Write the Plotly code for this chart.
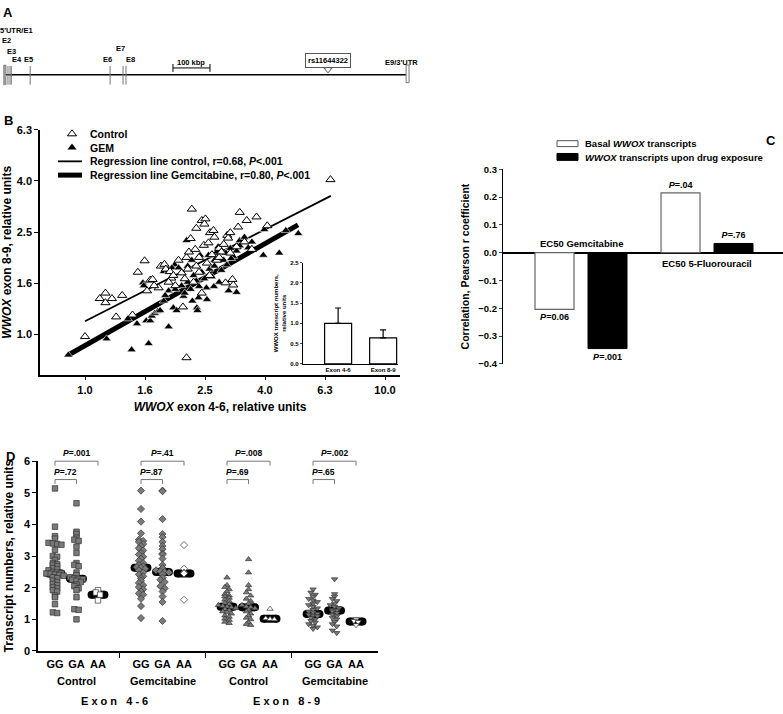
import plotly.graph_objects as go

W, H = 783, 714
FONT = "Arial, 'Liberation Sans', sans-serif"


def px_x(p):
    return p / W


def px_y(p):
    return 1 - p / H


# ---------------- panel A: WWOX gene map (kbp) ----------------
exon_names = ['E2', 'E3', 'E4', 'E5', 'E6', 'E7', 'E8']
exon_kbp = [8, 13.5, 17, 68, 284, 319, 327]
e1_kbp = 0
e9_kbp = 1088
snp_kbp = 873
scale_start = 454
scale_len = 100

# ---------------- panel B: scatter exon 4-6 vs exon 8-9 ----------------
ctrl_x = [1.00, 1.12, 1.17, 1.17, 1.23, 1.33, 1.27, 1.44, 1.50, 1.58, 1.61, 1.65, 1.68, 1.76, 1.79,
          1.84, 1.86, 1.92, 1.94, 1.97, 2.10, 2.12, 2.18, 2.18, 2.27, 2.25, 2.22, 2.33, 2.40, 2.45,
          2.52, 2.50, 2.49, 2.58, 2.61, 2.68, 2.70, 2.80, 2.85, 2.98, 3.00, 3.05, 2.94, 3.10, 3.12,
          3.28, 3.46, 3.24, 3.73, 4.05, 6.58, 2.05, 2.35, 2.30, 2.55, 2.65, 2.75, 2.15, 2.20, 2.40,
          2.60, 1.90, 2.00, 2.45, 2.80, 3.20, 3.40, 3.60, 2.90, 2.35, 1.70, 3.05]
ctrl_y = [0.98, 1.38, 1.33, 1.45, 1.38, 1.42, 1.17, 1.19, 1.75, 1.94, 1.48, 1.63, 1.64, 1.52, 1.85,
          1.88, 1.80, 1.76, 1.66, 1.70, 1.74, 1.28, 0.81, 2.00, 3.09, 2.37, 2.10, 2.15, 2.00, 2.79,
          2.83, 2.70, 2.23, 2.28, 2.50, 2.55, 2.40, 2.17, 2.10, 2.44, 2.38, 2.08, 1.59, 1.64, 1.56,
          3.00, 2.79, 2.63, 2.88, 2.66, 4.03, 1.95, 1.85, 1.60, 1.90, 2.05, 1.95, 1.65, 1.80, 1.75,
          1.70, 1.60, 1.55, 1.45, 2.00, 2.20, 2.30, 2.15, 2.25, 2.60, 1.55, 2.50]
gem_x = [0.88, 1.18, 1.43, 1.63, 1.90, 1.39, 1.49, 1.60, 1.65, 1.67, 1.71, 1.75, 1.56, 1.57, 1.83,
         1.90, 1.99, 1.95, 2.05, 2.27, 2.18, 2.42, 2.58, 2.75, 2.78, 2.90, 3.05, 3.12, 3.07, 2.97,
         3.28, 3.28, 3.20, 3.96, 4.67, 5.14, 3.93, 4.44, 3.01, 3.20, 2.69, 2.54, 2.40, 2.55, 2.39,
         2.36, 2.37, 2.28, 2.13, 1.97, 2.02, 1.90, 1.83, 1.78, 1.85, 2.00, 2.10, 2.20, 2.30, 2.45,
         2.60, 2.70, 2.85, 2.50, 2.35, 2.65, 2.80, 2.15, 2.25, 3.40, 3.60, 3.50, 2.95, 2.70, 2.20]
gem_y = [0.83, 0.96, 0.87, 0.92, 1.07, 1.15, 1.10, 1.13, 1.13, 1.18, 1.21, 1.23, 1.59, 1.55, 1.76,
         1.78, 1.87, 1.82, 1.82, 1.95, 2.33, 2.04, 2.04, 2.10, 2.20, 1.95, 2.17, 2.02, 1.98, 1.87,
         2.33, 2.22, 2.12, 2.57, 2.55, 2.48, 2.04, 2.08, 1.48, 1.46, 1.54, 1.52, 1.54, 1.37, 1.39,
         1.27, 1.24, 1.35, 1.41, 1.27, 1.24, 1.48, 1.35, 1.24, 1.42, 1.50, 1.55, 1.60, 1.70, 1.75,
         1.80, 1.85, 1.78, 1.65, 1.62, 1.68, 1.60, 1.45, 1.50, 2.40, 2.30, 2.18, 2.08, 1.95, 1.85]
reg_ctrl_x = [1.0, 6.6]
reg_ctrl_y = [1.125, 3.48]
reg_gem_x = [0.88, 5.13]
reg_gem_y = [0.83, 2.68]
b_ticks = ['1.0', '1.6', '2.5', '4.0', '6.3', '10.0']

# inset
inset_cats = ['Exon 4-6', 'Exon 8-9']
inset_vals = [1.0, 0.64]
inset_err = [0.38, 0.2]

# ---------------- panel C: correlation with EC50 ----------------
c_cats = ['EC50 Gemcitabine', 'EC50 5-Fluorouracil']
c_basal = [-0.204, 0.215]
c_drug = [-0.345, 0.033]
c_basal_p = ['<i>P</i>=0.06', '<i>P</i>=.04']
c_drug_p = ['<i>P</i>=.001', '<i>P</i>=.76']

# ---------------- panel D: transcripts by genotype ----------------
genotypes = ['GG', 'GA', 'AA']
d_groups = [
    [5.14, 3.93, 3.63, 3.55, 3.42, 3.40, 3.38, 3.36, 3.20, 3.00, 2.98, 2.88, 2.78, 2.75, 2.72, 2.68,
     2.62, 2.58, 2.55, 2.50, 2.48, 2.46, 2.45, 2.44, 2.42, 2.40, 2.38, 2.33, 2.30, 2.22, 2.18, 2.12,
     2.08, 2.02, 1.98, 1.92, 1.88, 1.75, 1.70, 1.48, 1.22, 1.20],
    [4.67, 3.77, 3.70, 3.58, 3.52, 3.48, 3.30, 3.10, 2.78, 2.72, 2.68, 2.48, 2.40, 2.33, 2.30, 2.28,
     2.27, 2.25, 2.22, 2.18, 2.10, 2.05, 1.98, 1.92, 1.70, 1.32, 1.30, 1.00],
    [1.92, 1.85, 1.78, 1.60],
    [5.07, 4.49, 4.09, 3.72, 3.52, 3.48, 3.45, 3.38, 3.32, 3.25, 3.18, 3.10, 3.05, 2.98, 2.92, 2.85,
     2.78, 2.72, 2.68, 2.65, 2.63, 2.60, 2.55, 2.48, 2.42, 2.36, 2.30, 2.22, 2.15, 2.08, 2.02, 1.95,
     1.88, 1.82, 1.78, 1.65, 1.42, 1.04],
    [5.07, 5.05, 4.17, 3.70, 3.60, 3.45, 3.32, 3.22, 3.08, 3.05, 2.92, 2.72, 2.62, 2.55, 2.52, 2.50,
     2.48, 2.42, 2.32, 2.25, 2.18, 2.05, 1.98, 1.88, 1.72, 1.55, 0.95],
    [3.35, 2.60, 2.48, 2.45, 1.62],
    [2.32, 2.08, 2.02, 1.95, 1.88, 1.80, 1.75, 1.72, 1.68, 1.62, 1.58, 1.52, 1.48, 1.45, 1.42, 1.40,
     1.38, 1.35, 1.32, 1.28, 1.25, 1.22, 1.18, 1.12, 1.08, 1.02, 0.98, 0.92, 0.88],
    [2.90, 2.48, 2.08, 1.95, 1.85, 1.75, 1.65, 1.58, 1.50, 1.45, 1.40, 1.38, 1.35, 1.30, 1.25, 1.18,
     1.12, 1.05, 1.00, 0.90, 0.85, 0.82],
    [1.33, 1.03, 1.01, 1.00],
    [1.95, 1.85, 1.78, 1.72, 1.65, 1.60, 1.55, 1.50, 1.45, 1.40, 1.35, 1.30, 1.25, 1.22, 1.18, 1.15,
     1.12, 1.10, 1.05, 1.00, 0.95, 0.90, 0.85, 0.80, 0.75, 0.70],
    [2.27, 1.80, 1.72, 1.65, 1.58, 1.50, 1.45, 1.40, 1.35, 1.30, 1.28, 1.25, 1.20, 1.15, 1.10, 1.05,
     1.00, 0.92, 0.85, 0.78, 0.65, 0.57],
    [1.00, 0.95, 0.92, 0.82],
]
d_medians = [2.45, 2.28, 1.78, 2.63, 2.50, 2.45, 1.40, 1.38, 1.02, 1.17, 1.28, 0.93]
d_treat = ['Control', 'Gemcitabine', 'Control', 'Gemcitabine']
d_symbols = ['square', 'diamond', 'triangle-up', 'triangle-down']
d_p_outer = ['.001', '.41', '.008', '.002']
d_p_inner = ['.72', '.87', '.69', '.65']
d_exons = ['E x o n   4 - 6', 'E x o n   8 - 9']


def swarm(vals, binw=0.1, step=0.2):
    bins = {}
    for i, v in enumerate(vals):
        bins.setdefault(round(v / binw), []).append(i)
    offs = [0.0] * len(vals)
    for idx in bins.values():
        n = len(idx)
        for k, i in enumerate(idx):
            offs[i] = (k - (n - 1) / 2) * step
    return offs


def label(text, xx, yy, size, anchor='center'):
    # text placed by page pixel
    fig.add_annotation(x=px_x(xx), y=px_y(yy), xref='paper', yref='paper', text=text,
                       showarrow=False, xanchor=anchor, yanchor='middle', font=dict(size=size))


fig = go.Figure()

# ---- A ----
fig.add_trace(go.Scatter(x=[e1_kbp, e9_kbp], y=[70, 70], mode='lines',
                         line=dict(color='black', width=1.5), xaxis='x', yaxis='y'))
ex_x, ex_y = [], []
for k in exon_kbp:
    ex_x += [k, k, None]
    ex_y += [61, 80, None]
fig.add_trace(go.Scatter(x=ex_x, y=ex_y, mode='lines', line=dict(color='#777', width=1),
                         xaxis='x', yaxis='y'))
fig.add_shape(type='rect', xref='x', yref='y', x0=e1_kbp - 4, x1=e1_kbp + 3, y0=60, y1=80,
              fillcolor='#999', line=dict(color='#777', width=0.5))
fig.add_shape(type='rect', xref='x', yref='y', x0=e9_kbp - 4, x1=e9_kbp + 4, y0=60, y1=78,
              fillcolor='white', line=dict(color='#777', width=1))
fig.add_trace(go.Scatter(x=[scale_start, scale_start, None, scale_start, scale_start + scale_len,
                            None, scale_start + scale_len, scale_start + scale_len],
                         y=[59, 67, None, 63, 63, None, 59, 67], mode='lines',
                         line=dict(color='black', width=1), xaxis='x', yaxis='y'))
fig.add_shape(type='path', xref='x', yref='y', line=dict(color='#555', width=1), fillcolor='white',
              path=f'M {snp_kbp - 5} 60 L {snp_kbp - 5} 63 L {snp_kbp - 11} 63 L {snp_kbp} 68 '
                   f'L {snp_kbp + 11} 63 L {snp_kbp + 5} 63 L {snp_kbp + 5} 60 Z')
a_labels = [('5\'UTR/E1', 16, 25), ('E2', 6, 35.5), ('E3', 11, 46), ('E4', 17, 54), ('E5', 28, 54),
            ('E6', 107.5, 54), ('E7', 120.5, 43), ('E8', 130.5, 54), ('E9/3\'UTR', 401, 57)]
for t, p, yy in a_labels:
    fig.add_annotation(x=(p - 5) * 100 / 37, y=yy, xref='x', yref='y', text=t, showarrow=False,
                       font=dict(size=7.5))
fig.add_annotation(x=scale_start + scale_len / 2, y=57, xref='x', yref='y', text='100 kbp',
                   showarrow=False, font=dict(size=7.5))
fig.add_annotation(x=snp_kbp, y=55, xref='x', yref='y', text='rs11644322', showarrow=False,
                   font=dict(size=7.5), bordercolor='#555', borderwidth=1, borderpad=2, bgcolor='white')

# ---- B ----
fig.add_trace(go.Scatter(x=reg_ctrl_x, y=reg_ctrl_y, mode='lines', line=dict(color='black', width=1.8),
                         xaxis='x2', yaxis='y2'))
fig.add_trace(go.Scatter(x=reg_gem_x, y=reg_gem_y, mode='lines', line=dict(color='black', width=5),
                         xaxis='x2', yaxis='y2'))
fig.add_trace(go.Scatter(x=gem_x, y=gem_y, mode='markers', xaxis='x2', yaxis='y2',
                         marker=dict(symbol='triangle-up', size=8, color='black',
                                     line=dict(color='white', width=0.6))))
fig.add_trace(go.Scatter(x=ctrl_x, y=ctrl_y, mode='markers', xaxis='x2', yaxis='y2',
                         marker=dict(symbol='triangle-up', size=8, color='white',
                                     line=dict(color='black', width=1))))
fig.add_trace(go.Bar(x=inset_cats, y=inset_vals, width=0.6, xaxis='x3', yaxis='y3',
                     marker=dict(color='white', line=dict(color='black', width=1.2)),
                     error_y=dict(type='data', array=inset_err, arrayminus=[0, 0], symmetric=False,
                                  color='black', thickness=1.2, width=3)))

# legend B (overlay)
fig.add_trace(go.Scatter(x=[72], y=[130], mode='markers', xaxis='x7', yaxis='y7',
                         marker=dict(symbol='triangle-up', size=8, color='white', line=dict(color='black', width=1))))
fig.add_trace(go.Scatter(x=[72], y=[144], mode='markers', xaxis='x7', yaxis='y7',
                         marker=dict(symbol='triangle-up', size=8, color='black')))
fig.add_trace(go.Scatter(x=[58, 82], y=[158, 158], mode='lines', xaxis='x7', yaxis='y7',
                         line=dict(color='black', width=1.8)))
fig.add_trace(go.Scatter(x=[58, 82], y=[172, 172], mode='lines', xaxis='x7', yaxis='y7',
                         line=dict(color='black', width=5)))
b_leg = ['Control', 'GEM', 'Regression line control, r=0.68, <i>P</i><.001',
         'Regression line Gemcitabine, r=0.80, <i>P</i><.001']
for i, t in enumerate(b_leg):
    label(t, 88, 130 + 14 * i, 10.5, 'left')

# ---- C ----
fig.add_trace(go.Bar(x=c_cats, y=c_basal, xaxis='x4', yaxis='y4', text=c_basal_p,
                     textposition='outside', cliponaxis=False, textfont=dict(size=9, color='black'),
                     marker=dict(color='white', line=dict(color='#666', width=1.2))))
fig.add_trace(go.Bar(x=c_cats, y=c_drug, xaxis='x4', yaxis='y4', text=c_drug_p,
                     textposition='outside', cliponaxis=False, textfont=dict(size=9, color='black'),
                     marker=dict(color='black', line=dict(color='black', width=1))))
fig.add_annotation(x=c_cats[0], y=0, xref='x4', yref='y4', text=c_cats[0], showarrow=False,
                   yanchor='bottom', yshift=2, font=dict(size=9.5))
fig.add_annotation(x=c_cats[1], y=0, xref='x4', yref='y4', text=c_cats[1], showarrow=False,
                   yanchor='top', yshift=-3, font=dict(size=9.5))
fig.add_shape(type='rect', xref='paper', yref='paper', x0=px_x(557), x1=px_x(578), y0=px_y(143),
              y1=px_y(137), fillcolor='white', line=dict(color='#555', width=1))
fig.add_shape(type='rect', xref='paper', yref='paper', x0=px_x(557), x1=px_x(578), y0=px_y(157),
              y1=px_y(150), fillcolor='black', line=dict(color='black', width=1))
label('Basal <i>WWOX</i> transcripts', 583, 140, 9.5, 'left')
label('<i>WWOX</i> transcripts upon drug exposure', 583, 154, 9.5, 'left')

# ---- D ----
for g, vals in enumerate(d_groups):
    pos = g + g // 3
    blk = g // 3
    fig.add_trace(go.Scatter(x=[pos - 0.3, pos + 0.3], y=[d_medians[g]] * 2, mode='lines+markers',
                             line=dict(color='black', width=8),
                             marker=dict(symbol='circle', size=8, color='black'),
                             xaxis='x5', yaxis='y5'))
    offs = swarm(vals)
    fill = 'white' if g % 3 == 2 else '#7a7a7a'
    fig.add_trace(go.Scatter(x=[pos + o for o in offs], y=vals, mode='markers', xaxis='x5', yaxis='y5',
                             marker=dict(symbol=d_symbols[blk], size=5.5, color=fill,
                                         line=dict(color='#333', width=0.7))))

for blk in range(4):
    base = 4 * blk
    for lo, hi, yb, p in [(base, base + 2, 6.0, d_p_outer[blk]), (base, base + 1, 5.42, d_p_inner[blk])]:
        fig.add_trace(go.Scatter(x=[lo, lo, hi, hi], y=[yb - 0.14, yb, yb, yb - 0.14], mode='lines',
                                 line=dict(color='#777', width=1), xaxis='x6', yaxis='y6'))
        fig.add_annotation(x=(lo + hi) / 2, y=yb, xref='x6', yref='y6', text=f'<i>P</i>={p}',
                           showarrow=False, yanchor='bottom', yshift=1, font=dict(size=8.5))
    fig.add_annotation(x=base + 1, y=px_y(687), xref='x5', yref='paper', text=d_treat[blk],
                       showarrow=False, yanchor='middle', font=dict(size=11))
for i, t in enumerate(d_exons):
    fig.add_annotation(x=2.75 + 8 * i, y=px_y(707), xref='x5', yref='paper', text=t,
                       showarrow=False, yanchor='middle', font=dict(size=11))

# panel letters
for t, xx, yy in [('A', 8, 7), ('B', 8, 116), ('C', 771, 137), ('D', 10, 458)]:
    label(t, xx, yy, 13)

d_pos = [g + g // 3 for g in range(12)]
tick_font = dict(size=11)
axline = dict(showline=True, linecolor='black', linewidth=1.5, ticks='outside', tickcolor='black',
              ticklen=4, tickwidth=1.2, showgrid=False, zeroline=False)
hidden = dict(visible=False, showgrid=False, zeroline=False)

fig.update_layout(
    width=W, height=H, autosize=False, margin=dict(l=0, r=0, t=0, b=0),
    plot_bgcolor='rgba(0,0,0,0)', paper_bgcolor='white', showlegend=False,
    font=dict(family=FONT, color='black', weight='bold'),
    barmode='group', bargap=0.159, bargroupgap=0.264,
    xaxis=dict(domain=[0, px_x(420)], range=[-13.5, 1121.6], anchor='y', **hidden),
    yaxis=dict(domain=[px_y(100), 1], range=[100, 0], anchor='x', **hidden),
    xaxis2=dict(domain=[px_x(40), px_x(400)], type='log', range=[-0.15, 1.05], anchor='y2',
                tickvals=[10 ** (0.2 * k) for k in range(6)], ticktext=b_ticks, tickfont=tick_font,
                title=dict(text='<i>WWOX</i> exon 4-6, relative units', font=dict(size=12), standoff=8),
                **axline),
    yaxis2=dict(domain=[px_y(375), px_y(126)], type='log', range=[-0.158, 0.8], anchor='x2',
                tickvals=[10 ** (0.2 * k) for k in range(5)], ticktext=b_ticks[:5], tickfont=tick_font,
                title=dict(text='<i>WWOX</i> exon 8-9, relative units', font=dict(size=12), standoff=6),
                **axline),
    xaxis3=dict(domain=[px_x(303), px_x(398)], range=[-0.78, 1.33], anchor='y3',
                tickfont=dict(size=6), showline=True, linecolor='black', linewidth=1.2, ticks='',
                showgrid=False),
    yaxis3=dict(domain=[px_y(364), px_y(261)], range=[0, 2.5], anchor='x3', dtick=0.5, tickformat='.1f',
                tickfont=dict(size=6), showline=True, linecolor='black', linewidth=1.2, ticks='outside',
                ticklen=2, showgrid=False, zeroline=False,
                title=dict(text='WWOX transcript numbers,<br>relative units', font=dict(size=6), standoff=3)),
    xaxis4=dict(domain=[px_x(503), 1], range=[-0.619, 1.603], anchor='y4', visible=False, showgrid=False),
    yaxis4=dict(domain=[px_y(364), px_y(166)], range=[-0.4, 0.3], anchor='x4', dtick=0.1,
                tickformat='.1f', tickfont=dict(size=9.5), showline=True, linecolor='black', linewidth=1.2,
                ticks='outside', ticklen=3, showgrid=False, zeroline=True, zerolinecolor='black',
                zerolinewidth=1.5,
                title=dict(text='Correlation, Pearson r coefficient', font=dict(size=10.5), standoff=6)),
    xaxis5=dict(domain=[px_x(38), px_x(378)], range=[-0.79, 15.02], anchor='y5',
                tickvals=[3, 7, 11], ticktext=['', '', ''], showline=True, linecolor='black',
                linewidth=1.5, ticks='outside', ticklen=5, tickcolor='black', showgrid=False, zeroline=False),
    yaxis5=dict(domain=[px_y(656), px_y(463)], range=[0, 6], anchor='x5', dtick=1, tickfont=tick_font,
                title=dict(text='Transcript numbers, relative units', font=dict(size=12), standoff=8),
                **axline),
    xaxis6=dict(domain=[px_x(38), px_x(378)], range=[-0.79, 15.02], anchor='y6', tickvals=d_pos,
                ticktext=genotypes * 4, ticks='', showline=False, showgrid=False, zeroline=False,
                tickfont=dict(size=11), ticklabelstandoff=5),
    yaxis6=dict(domain=[px_y(656), px_y(425)], range=[0, 7.181], anchor='x6', **hidden),
    xaxis7=dict(domain=[0, 1], range=[0, W], anchor='y7', **hidden),
    yaxis7=dict(domain=[0, 1], range=[H, 0], anchor='x7', **hidden),
)

fig.write_html("out.html", config={'displayModeBar': False},
               post_script="document.body.style.margin='0';")
